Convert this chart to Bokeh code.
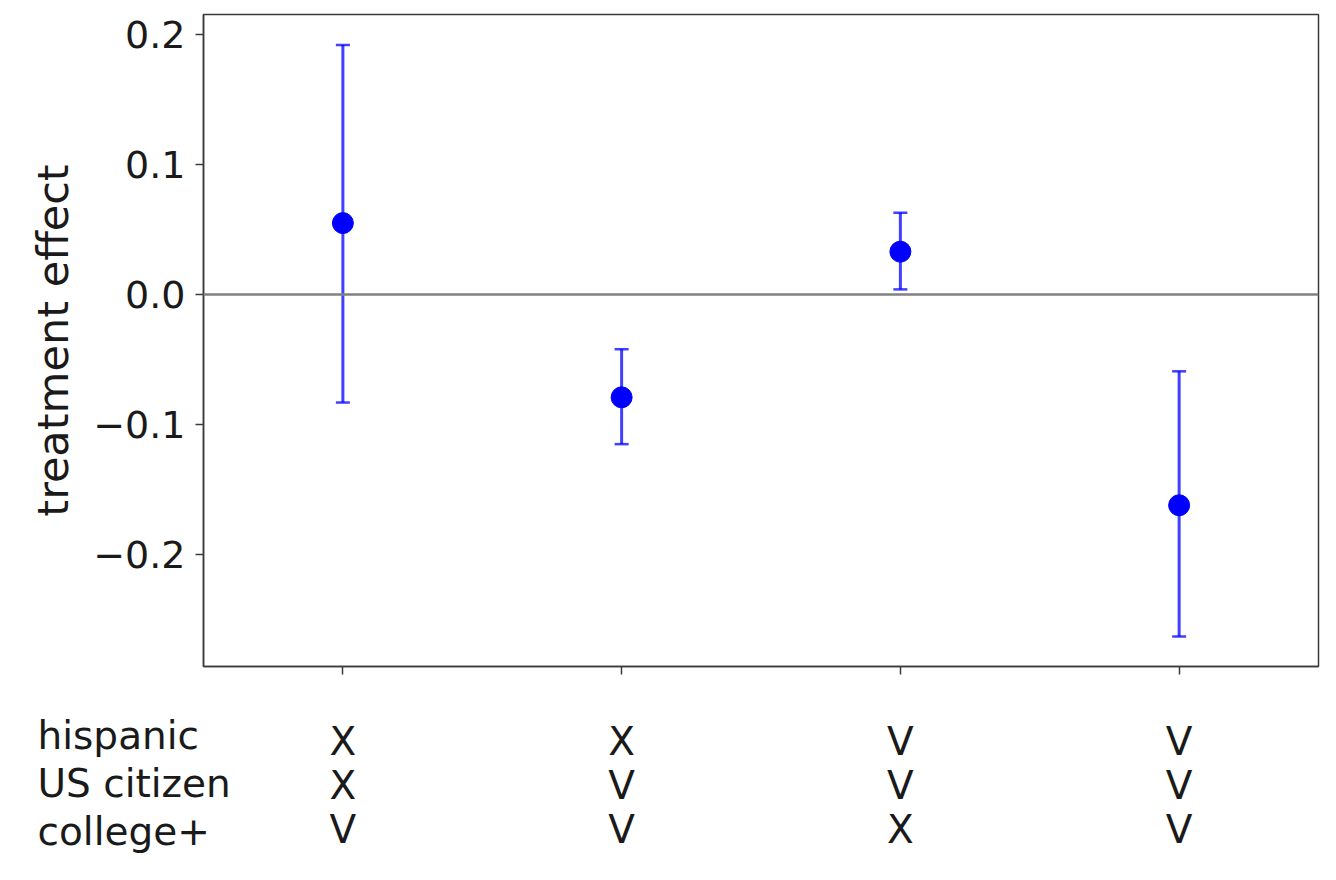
from bokeh.plotting import figure
from bokeh.layouts import column
from bokeh.models import (ColumnDataSource, Whisker, TeeHead, Span, Range1d, FixedTicker,
                          CustomJSTickFormatter)
from bokeh.core.properties import value
from bokeh.embed import file_html
from bokeh.resources import INLINE

# ---- data ----
groups = [0, 1, 2, 3]
effect = [0.055, -0.079, 0.033, -0.162]
lower = [-0.083, -0.115, 0.004, -0.263]
upper = [0.192, -0.042, 0.063, -0.059]

row_names = ["hispanic", "US citizen", "college+"]
hispanic = ["X", "X", "V", "V"]
us_citizen = ["X", "V", "V", "V"]
college = ["V", "V", "X", "V"]

y_ticks = [-0.2, -0.1, 0.0, 0.1, 0.2]

FONT = "DejaVu Sans"
TXT = "#1a1a1a"
AX = "#3a3a3a"

# ---- layout constants ----
W = 1320
LEFT, RIGHT, TOP = 203, 2, 14
FRAME_BOTTOM = 666
H1 = 690
H2 = 180
X0, X1 = -0.5, 3.5

p = figure(width=W, height=H1, output_backend="svg", toolbar_location=None,
           x_range=Range1d(X0, X1), y_range=Range1d(-0.286, 0.2154),
           min_border_left=LEFT, min_border_right=RIGHT, min_border_top=TOP,
           min_border_bottom=H1 - FRAME_BOTTOM)
p.frame_align = False
p.outline_line_color = AX
p.outline_line_width = 1.5
p.xgrid.visible = False
p.ygrid.visible = False

p.yaxis.ticker = FixedTicker(ticks=y_ticks)
p.yaxis.formatter = CustomJSTickFormatter(code="""
    const v = Math.abs(tick) < 1e-9 ? 0 : tick;
    return v < 0 ? "\u2212" + (-v).toFixed(1) : v.toFixed(1);
""")
p.yaxis.minor_tick_line_color = None
p.yaxis.major_tick_out = 8
p.yaxis.major_tick_in = 0
p.yaxis.major_tick_line_color = AX
p.yaxis.major_tick_line_width = 1.5
p.yaxis.axis_line_color = AX
p.yaxis.axis_line_width = 1.5
p.yaxis.major_label_text_font = FONT
p.yaxis.major_label_text_font_size = "38px"
p.yaxis.major_label_text_color = TXT
p.yaxis.major_label_standoff = 10
p.yaxis.axis_label = "treatment effect"
p.yaxis.axis_label_text_font = FONT
p.yaxis.axis_label_text_font_size = "43px"
p.yaxis.axis_label_text_font_style = "normal"
p.yaxis.axis_label_text_color = TXT
p.yaxis.axis_label_standoff = 12

p.xaxis.ticker = FixedTicker(ticks=groups)
p.xaxis.minor_tick_line_color = None
p.xaxis.major_tick_out = 8
p.xaxis.major_tick_in = 0
p.xaxis.major_tick_line_color = AX
p.xaxis.major_tick_line_width = 1.5
p.xaxis.axis_line_color = AX
p.xaxis.axis_line_width = 1.5
p.xaxis.major_label_text_color = None
p.xaxis.major_label_text_font_size = "1px"
p.xaxis.major_label_standoff = 0

p.add_layout(Span(location=0, dimension="width", line_color="#808080", line_width=2.5))

src = ColumnDataSource(dict(x=groups, y=effect, lo=lower, hi=upper))
p.add_layout(Whisker(source=src, base="x", lower="lo", upper="hi", dimension="height",
                     line_color="blue", line_alpha=0.75, line_width=3,
                     upper_head=TeeHead(size=14, line_color="blue", line_alpha=0.75, line_width=2.5),
                     lower_head=TeeHead(size=14, line_color="blue", line_alpha=0.75, line_width=2.5)))
p.scatter("x", "y", source=src, size=21, fill_color="blue", line_color="blue")

# ---- table figure below, same x scale ----
scale = (X1 - X0) / (W - LEFT - RIGHT)  # data units per pixel
t = figure(width=W, height=H2, output_backend="svg", toolbar_location=None,
           x_range=Range1d(X0 - LEFT * scale, X1 + RIGHT * scale),
           y_range=Range1d(H2, 0),
           x_axis_location=None, y_axis_location=None,
           min_border_left=0, min_border_right=0, min_border_top=0, min_border_bottom=0)
t.frame_align = False
t.outline_line_color = None
t.xgrid.visible = False
t.ygrid.visible = False

cell_rows = [hispanic, us_citizen, college]
cell_base = [51, 95, 139]      # baselines (px from top of table area)
name_base = [45, 93, 141]
for vals, yb in zip(cell_rows, cell_base):
    t.text(x=groups, y=[yb] * len(groups), text=vals, text_align="center",
           text_baseline="alphabetic", text_font=value(FONT), text_font_size="39px",
           text_color=TXT)
name_x = X0 - LEFT * scale + 37 * scale
t.text(x=[name_x] * len(row_names), y=name_base, text=row_names, text_align="left",
       text_baseline="alphabetic", text_font=value(FONT), text_font_size="39px",
       text_color=TXT)

layout = column(p, t, spacing=0)
open("out.html", "w").write(file_html(layout, INLINE))
